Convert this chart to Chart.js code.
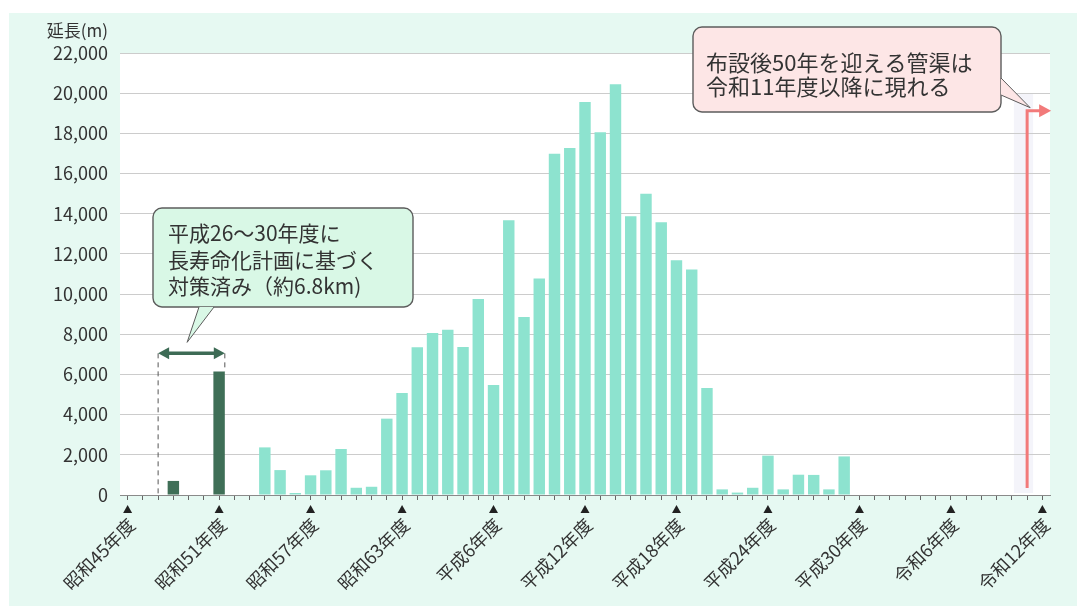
<!DOCTYPE html>
<html lang="ja">
<head>
<meta charset="utf-8">
<script src="https://cdn.jsdelivr.net/npm/chart.js@4/dist/chart.umd.min.js"></script>
<style>
  html, body { margin: 0; padding: 0; background: #fff; }
  #wrap { position: relative; width: 1077px; height: 608px; }
</style>
</head>
<body>
<div id="wrap"><canvas id="pipeChart" width="1077" height="608"></canvas></div>
<script>
// 年度（昭和45年度〜令和12年度）
const years = [
  '昭和45年度', '昭和46年度', '昭和47年度', '昭和48年度', '昭和49年度', '昭和50年度',
  '昭和51年度', '昭和52年度', '昭和53年度', '昭和54年度', '昭和55年度', '昭和56年度',
  '昭和57年度', '昭和58年度', '昭和59年度', '昭和60年度', '昭和61年度', '昭和62年度',
  '昭和63年度', '平成元年度', '平成2年度', '平成3年度', '平成4年度', '平成5年度',
  '平成6年度', '平成7年度', '平成8年度', '平成9年度', '平成10年度', '平成11年度',
  '平成12年度', '平成13年度', '平成14年度', '平成15年度', '平成16年度', '平成17年度',
  '平成18年度', '平成19年度', '平成20年度', '平成21年度', '平成22年度', '平成23年度',
  '平成24年度', '平成25年度', '平成26年度', '平成27年度', '平成28年度', '平成29年度',
  '平成30年度', '令和元年度', '令和2年度', '令和3年度', '令和4年度', '令和5年度',
  '令和6年度', '令和7年度', '令和8年度', '令和9年度', '令和10年度', '令和11年度',
  '令和12年度'
];

// 長寿命化計画に基づく対策済み (m)
const renewedLength = [
  0, 0, 0, 700, 0, 0, 6150, 0, 0, 0, 0, 0, 0, 0, 0, 0, 0, 0, 0, 0, 0,
  0, 0, 0, 0, 0, 0, 0, 0, 0, 0, 0, 0, 0, 0, 0, 0, 0, 0, 0, 0,
  0, 0, 0, 0, 0, 0, 0, 0, 0, 0, 0, 0, 0, 0, 0, 0, 0, 0, 0, 0
];

// 布設延長 (m)
const pipeLength = [
  0, 0, 0, 0, 0, 0, 0, 0, 0,
  2370, 1240, 100, 980, 1230, 2290, 360, 410, 3800, 5080,
  7350, 8060, 8230, 7370, 9750, 5470, 13670, 8860, 10780, 16980,
  17270, 19560, 18050, 20450, 13880, 14990, 13580, 11680, 11230, 5330,
  280, 120, 360, 1960, 280, 1010, 1000, 280, 1920,
  0, 0, 0, 0, 0, 0, 0, 0, 0, 0, 0, 0, 0
];

const yMax = 22000;
const yStep = 2000;
const tickEvery = 6;

// 注記の位置（データ単位）
const bracketYears = [2, 6];      // 平成26〜30年度の対策対象
const bracketLevel = 7050;
const arrowYear = 59;             // 令和11年度
const arrowRange = [350, 19130];

const noteLeft = ['平成26～30年度に', '長寿命化計画に基づく', '対策済み（約6.8km)'];
const noteRight = ['布設後50年を迎える管渠は', '令和11年度以降に現れる'];

const FONT = "'Noto Sans CJK JP', 'Noto Sans', sans-serif";

function bubble(ctx, x, y, w, h, tail, fill) {
  ctx.beginPath();
  ctx.roundRect(x, y, w, h, 9);
  ctx.fillStyle = fill;
  ctx.fill();
  ctx.strokeStyle = '#5c5c5c';
  ctx.lineWidth = 1.4;
  ctx.stroke();
  // しっぽ
  ctx.beginPath();
  ctx.moveTo(tail[0][0], tail[0][1]);
  ctx.lineTo(tail[2][0], tail[2][1]);
  ctx.lineTo(tail[1][0], tail[1][1]);
  ctx.closePath();
  ctx.fillStyle = fill;
  ctx.fill();
  ctx.beginPath();
  ctx.moveTo(tail[0][0], tail[0][1]);
  ctx.lineTo(tail[2][0], tail[2][1]);
  ctx.lineTo(tail[1][0], tail[1][1]);
  ctx.lineWidth = 1;
  ctx.stroke();
}

const decorPlugin = {
  id: 'decor',
  beforeDraw(chart) {
    const { ctx, chartArea: a } = chart;
    const x = chart.scales.x;
    ctx.save();
    ctx.fillStyle = '#ffffff';
    ctx.fillRect(0, 0, chart.width, chart.height);
    ctx.fillStyle = '#e6f9f2';
    ctx.fillRect(9, 13, chart.width - 9, 593);
    ctx.fillStyle = '#ffffff';
    ctx.fillRect(a.left, a.top, a.right - a.left, a.bottom - a.top);
    // 令和11年度付近のうすい帯
    const b0 = x.getPixelForValue(arrowYear - 1);
    const b1 = x.getPixelForValue(arrowYear);
    ctx.fillStyle = 'rgba(236,237,247,0.6)';
    ctx.fillRect(b0 + 2, a.top + 40, b1 - b0 + 4, a.bottom - a.top - 42);
    ctx.restore();
  },
  afterDraw(chart) {
    const { ctx, chartArea: a } = chart;
    const x = chart.scales.x;
    const y = chart.scales.y;
    const step = x.getPixelForValue(1) - x.getPixelForValue(0);
    ctx.save();

    // 6年ごとの三角マーク
    ctx.fillStyle = '#222';
    years.forEach((_, i) => {
      if (i % tickEvery) return;
      const px = x.getPixelForValue(i);
      ctx.beginPath();
      ctx.moveTo(px, a.bottom + 10);
      ctx.lineTo(px - 4.5, a.bottom + 18);
      ctx.lineTo(px + 4.5, a.bottom + 18);
      ctx.closePath();
      ctx.fill();
    });

    // 対策済み範囲の矢印
    const bx0 = x.getPixelForValue(bracketYears[0]);
    const bx1 = x.getPixelForValue(bracketYears[1]) + step * 0.375;
    const by = y.getPixelForValue(bracketLevel);
    ctx.setLineDash([5, 4]);
    ctx.strokeStyle = '#555';
    ctx.lineWidth = 1;
    ctx.beginPath();
    ctx.moveTo(bx0, by);
    ctx.lineTo(bx0, y.getPixelForValue(0));
    ctx.moveTo(bx1, by);
    ctx.lineTo(bx1, y.getPixelForValue(renewedLength[bracketYears[1]]));
    ctx.stroke();
    ctx.setLineDash([]);
    ctx.strokeStyle = '#3d6b55';
    ctx.fillStyle = '#3d6b55';
    ctx.lineWidth = 3.5;
    ctx.beginPath();
    ctx.moveTo(bx0 + 6, by);
    ctx.lineTo(bx1 - 6, by);
    ctx.stroke();
    [[bx0, 1], [bx1, -1]].forEach(([px, d]) => {
      ctx.beginPath();
      ctx.moveTo(px, by);
      ctx.lineTo(px + d * 11, by - 6);
      ctx.lineTo(px + d * 11, by + 6);
      ctx.closePath();
      ctx.fill();
    });

    // 令和11年度の赤い矢印
    const rx = x.getPixelForValue(arrowYear);
    const ry0 = y.getPixelForValue(arrowRange[0]);
    const ry1 = y.getPixelForValue(arrowRange[1]);
    ctx.strokeStyle = '#f27a7a';
    ctx.fillStyle = '#f27a7a';
    ctx.lineWidth = 3;
    ctx.beginPath();
    ctx.moveTo(rx, ry0);
    ctx.lineTo(rx, ry1);
    ctx.lineTo(rx + 14, ry1);
    ctx.stroke();
    ctx.beginPath();
    ctx.moveTo(rx + 24, ry1);
    ctx.lineTo(rx + 12, ry1 - 6.5);
    ctx.lineTo(rx + 12, ry1 + 6.5);
    ctx.closePath();
    ctx.fill();

    // 吹き出し
    bubble(ctx, 153, 208, 260, 99, [[199, 307], [214, 307], [bx0 + 29, by - 11]], '#d9f8e6');
    bubble(ctx, 693, 27, 308, 85, [[1001, 78], [1001, 95], [rx + 3, ry1 - 3]], '#fde6e6');
    ctx.fillStyle = '#333';
    ctx.font = '21px ' + FONT;
    ctx.textBaseline = 'alphabetic';
    noteLeft.forEach((t, i) => ctx.fillText(t, 168, 241 + i * 26.5));
    ctx.font = '22px ' + FONT;
    noteRight.forEach((t, i) => ctx.fillText(t, 706, 71 + i * 24));

    // 単位
    ctx.font = '17px ' + FONT;
    ctx.textAlign = 'right';
    ctx.textBaseline = 'middle';
    ctx.fillText('延長(m)', 108, 31);
    ctx.restore();
  }
};

new Chart(document.getElementById('pipeChart'), {
  type: 'bar',
  data: {
    labels: years,
    datasets: [
      {
        label: '対策済み',
        data: renewedLength,
        backgroundColor: '#3f6f57',
        barPercentage: 0.75,
        categoryPercentage: 1
      },
      {
        label: '布設延長',
        data: pipeLength,
        backgroundColor: '#8de3cf',
        barPercentage: 0.75,
        categoryPercentage: 1
      }
    ]
  },
  options: {
    responsive: false,
    animation: false,
    devicePixelRatio: 1,
    layout: { padding: { left: 0, top: 53, right: 27, bottom: 0 } },
    plugins: {
      legend: { display: false },
      tooltip: { enabled: false }
    },
    scales: {
      x: {
        stacked: true,
        afterFit: scale => { scale.height = 113; },
        grid: {
          offset: false,
          drawOnChartArea: false,
          drawTicks: true,
          tickLength: 5,
          color: '#666'
        },
        border: { display: true, color: '#8a8a8a' },
        ticks: {
          autoSkip: false,
          maxRotation: 45,
          minRotation: 45,
          padding: 14,
          labelOffset: 4,
          color: '#333',
          font: { family: FONT, size: 18 },
          callback: (value, index) => (index % tickEvery === 0 ? years[index] : '')
        }
      },
      y: {
        stacked: true,
        min: 0,
        max: yMax,
        afterFit: scale => { scale.width = 120; },
        grid: { color: '#cccccc', drawTicks: false },
        border: { display: false },
        ticks: {
          stepSize: yStep,
          padding: 12,
          color: '#333',
          font: { family: FONT, size: 18 },
          callback: value => value.toLocaleString('en-US')
        }
      }
    }
  },
  plugins: [decorPlugin]
});
</script>
</body>
</html>
